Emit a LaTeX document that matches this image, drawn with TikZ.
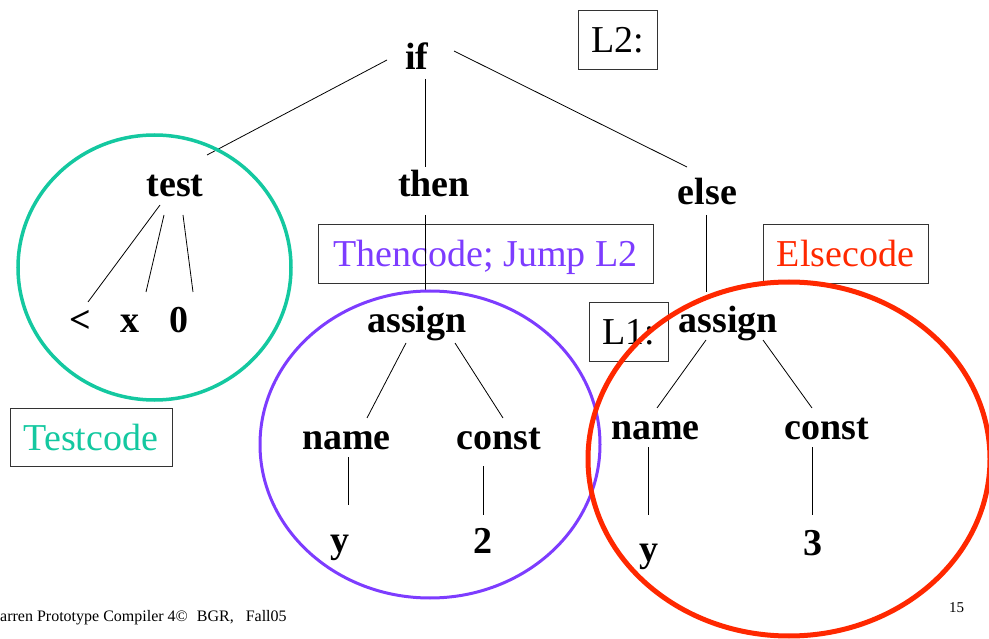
\documentclass[tikz,border=0pt]{standalone}
\usepackage{fontspec}
\setmainfont{Liberation Serif}
\usetikzlibrary{calc}
\definecolor{tealc}{RGB}{20,200,160}
\definecolor{purplec}{RGB}{125,60,255}
\definecolor{redc}{RGB}{255,40,0}
\begin{document}
\begin{tikzpicture}[x=1pt,y=-1pt,
  lbl/.style={inner sep=0pt,anchor=base,font=\fontsize{38}{40}\selectfont\bfseries},
  codebox/.style={draw=black!80,line width=0.9pt,inner sep=0pt,text depth=0pt,font=\fontsize{38}{40}\selectfont},
  edge/.style={line width=0.8pt},
  ring/.style={line width=#1}]
\useasboundingbox (0,0) rectangle (989,639);
% boxes
\node[codebox,minimum width=79pt,minimum height=59pt] (L2) at (617.5,39.5) {L2:};
\node[codebox,minimum width=335pt,minimum height=59pt,text=purplec] (thencode) at (485.5,253.5) {Thencode; Jump L2};
\node[codebox,minimum width=165pt,minimum height=59pt,text=redc] (elsecode) at (845.5,253.5) {Elsecode};
\node[codebox,minimum width=79pt,minimum height=59pt] (L1) at (628.5,331.5) {L1:};
\node[codebox,minimum width=162pt,minimum height=58pt,text=tealc] (testcode) at (91,437) {Testcode};
% tree labels
\node[lbl] (if) at (417,70) {if};
\node[lbl] (test) at (175,197) {test};
\node[lbl] (then) at (434,197) {then};
\node[lbl] (else) at (707.5,205) {else};
\node[lbl] (lt) at (80,333) {<};
\node[lbl] (x) at (130,333) {x};
\node[lbl] (zero) at (179,333) {0};
\node[lbl] (assignT) at (417,333) {assign};
\node[lbl] (assignE) at (728.5,333) {assign};
\node[lbl] (nameT) at (346.5,449) {name};
\node[lbl] (constT) at (498.5,449) {const};
\node[lbl] (yT) at (340,552) {y};
\node[lbl] (two) at (483,553) {2};
\node[lbl] (nameE) at (655.5,439) {name};
\node[lbl] (constE) at (827,439) {const};
\node[lbl] (yE) at (649,561) {y};
\node[lbl] (three) at (813,555) {3};
% connectors
\draw[edge] ($(if.base)+(-30,-10)$) -- ($(test.base)+(32,-42)$);
\draw[edge] ($(if.base)+(8,9)$) -- ($(then.base)+(-9,-30)$);
\draw[edge] ($(then.base)+(-9,18)$) -- ($(assignT.base)+(8,-43)$);
\draw[edge] ($(if.base)+(37,-19)$) -- ($(else.base)+(-20.5,-38)$);
\draw[edge] ($(else.base)+(-1.5,10)$) -- ($(assignE.base)+(-22.5,-41)$);
\draw[edge] ($(test.base)+(-15,8)$) -- ($(lt.base)+(8,-31)$);
\draw[edge] ($(test.base)+(-11,18)$) -- ($(x.base)+(16,-41)$);
\draw[edge] ($(test.base)+(8,18)$) -- ($(zero.base)+(14,-41)$);
\draw[edge] ($(assignT.base)+(-11,10)$) -- ($(nameT.base)+(20.5,-31)$);
\draw[edge] ($(assignT.base)+(38,10)$) -- ($(constT.base)+(4.5,-31)$);
\draw[edge] ($(nameT.base)+(1.5,8)$) -- ($(yT.base)+(8,-47)$);
\draw[edge] ($(constT.base)+(-15.5,17)$) -- ($(two.base)+(0,-38)$);
\draw[edge] ($(assignE.base)+(-22.5,7)$) -- ($(nameE.base)+(1.5,-31)$);
\draw[edge] ($(assignE.base)+(34.5,7)$) -- ($(constE.base)+(-15,-31)$);
\draw[edge] ($(nameE.base)+(-7.5,8)$) -- ($(yE.base)+(-1,-46)$);
\draw[edge] ($(constE.base)+(-15,8)$) -- ($(three.base)+(-1,-40)$);
% rings
\draw[ring=3.5pt,tealc] (154.5,267.5) ellipse [x radius=136.5pt,y radius=132.5pt];
\draw[ring=3pt,purplec] (430,444.5) ellipse [x radius=170pt,y radius=153.5pt];
\draw[ring=5pt,redc] (789,459) ellipse [x radius=201pt,y radius=177pt];
% footer
\node[inner sep=0pt,anchor=base west,font=\fontsize{16}{18}\selectfont] (footer) at (0,621) {arren Prototype Compiler 4©\hspace{9pt}BGR,\hspace{12pt}Fall05};
\node[inner sep=0pt,anchor=base,font=\fontsize{15}{17}\selectfont] (pageno) at (956.5,612) {15};
\end{tikzpicture}
\end{document}
